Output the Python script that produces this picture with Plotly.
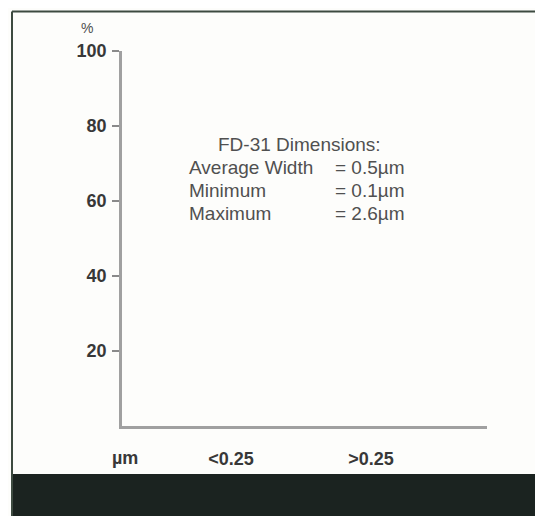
import plotly.graph_objects as go

# ---- data ----
categories = ["<0.25", ">0.25"]
percent_values = [0, 0]          # no visible bars in the reference
category_pos = [0, 1]
y_ticks = [20, 40, 60, 80, 100]
y_tick_labels = ["20", "40", "60", "80", "100"]
x_unit = "µm"
y_unit = "%"
box_title = "FD-31 Dimensions:"
dim_names = ["Average Width", "Minimum", "Maximum"]
dim_values = ["0.5", "0.1", "2.6"]

OFF = 8                      # default body margin of the html page
W, H = 543 - OFF, 516 - OFF
L, R, T, B = 122 - OFF, 56, 51 - OFF, 90
pw, ph = W - L - R, H - T - B


def px(xs):
    """screen x -> paper x"""
    return (xs - OFF - L) / pw


def py(ys):
    """screen y -> paper y"""
    return (H - B - (ys - OFF)) / ph


FONT = "Liberation Sans, Arial, sans-serif"
TXT = "#505050"
TICK = "#383838"

fig = go.Figure()
fig.add_trace(go.Bar(x=category_pos, y=percent_values, marker_color="#888",
                     marker_line_width=0, showlegend=False, hoverinfo="skip"))

fig.update_layout(
    width=W, height=H,
    margin=dict(l=L, r=R, t=T, b=B, pad=0),
    paper_bgcolor="#fdfdfb", plot_bgcolor="#fdfdfb",
    font=dict(family=FONT, color=TXT),
    showlegend=False,
)
fig.update_xaxes(
    range=[-0.78, 1.83], tickmode="array", tickvals=category_pos,
    ticktext=categories, showline=True, linecolor="#a0a0a0", linewidth=2.5,
    ticks="", showgrid=False, zeroline=False,
    tickfont=dict(family=FONT, size=18, color=TICK, weight="bold"),
    ticklabelstandoff=15,
)
fig.update_yaxes(
    range=[0, 100], tickmode="array", tickvals=y_ticks, ticktext=y_tick_labels,
    showline=True, linecolor="#a0a0a0", linewidth=2.5,
    ticks="outside", ticklen=7, tickwidth=1.5, tickcolor="#8a8a8a",
    showgrid=False, zeroline=False,
    tickfont=dict(family=FONT, size=18, color=TICK, weight="bold"),
    ticklabelstandoff=2,
)

ann = []
ann.append(dict(x=px(87), y=py(28), xref="paper", yref="paper", text=y_unit,
                showarrow=False, xanchor="center", yanchor="middle",
                font=dict(size=14, color=TXT, family=FONT)))
ann.append(dict(x=px(125), y=py(458), xref="paper", yref="paper", text=x_unit,
                showarrow=False, xanchor="center", yanchor="middle",
                font=dict(size=18, color=TICK, family=FONT, weight="bold")))
ann.append(dict(x=px(299), y=py(144), xref="paper", yref="paper", text=box_title,
                showarrow=False, xanchor="center", yanchor="middle",
                font=dict(size=19, color=TXT, family=FONT)))
rows_y = [167, 190, 213]
for name, val, yy in zip(dim_names, dim_values, rows_y):
    ann.append(dict(x=px(187), y=py(yy), xref="paper", yref="paper", text=name,
                    showarrow=False, xanchor="left", yanchor="middle",
                    font=dict(size=19, color=TXT, family=FONT)))
    ann.append(dict(x=px(333), y=py(yy), xref="paper", yref="paper",
                    text="= " + val + "µm",
                    showarrow=False, xanchor="left", yanchor="middle",
                    font=dict(size=19, color=TXT, family=FONT)))
fig.update_layout(annotations=ann)

# frame + dark band of the scanned page
shapes = [
    dict(type="rect", xref="paper", yref="paper", x0=px(12), x1=px(560),
         y0=py(530), y1=py(474), fillcolor="#1b2320", line_width=0, layer="below"),
    dict(type="line", xref="paper", yref="paper", x0=px(12), x1=px(560),
         y0=py(11.5), y1=py(11.5), line=dict(color="#3d4a40", width=2)),
    dict(type="line", xref="paper", yref="paper", x0=px(12), x1=px(12),
         y0=py(11.5), y1=py(530), line=dict(color="#3d4a40", width=2)),
]
fig.update_layout(shapes=shapes)

fig.write_html("out.html")
